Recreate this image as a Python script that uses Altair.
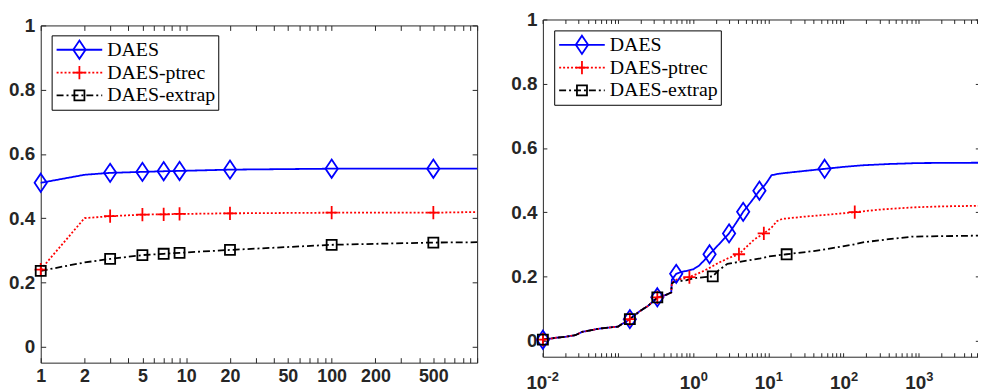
import json
import altair as alt
import pandas as pd

METHODS = ["DAES", "DAES-ptrec", "DAES-extrap"]
KEYS = ["k1", "k2", "k3"]          # internal keys for the marker legend
COLORS = ["#0000ff", "#ff0000", "#000000"]
DASHES = [[1, 0], [2, 2], [7, 3, 2, 3]]
SHAPES = [
    "M0,-0.4L0.27,0L0,0.4L-0.27,0Z",
    "M-0.27,0H0.27M0,-0.29V0.29",
    "M-0.22,-0.22H0.22V0.22H-0.22Z",
]

# ---------------- left panel ----------------
L_X = [1, 2, 3, 5, 7, 9, 20, 100, 500, 1000]
L_DAES = [0.510, 0.535, 0.541, 0.544, 0.546, 0.547, 0.551, 0.554, 0.554, 0.554]
L_PTREC = [0.240, 0.400, 0.406, 0.411, 0.412, 0.413, 0.415, 0.417, 0.417, 0.419]
L_EXTRAP = [0.236, 0.262, 0.273, 0.285, 0.289, 0.292, 0.301, 0.317, 0.324, 0.325]
L_MARK_X = [1, 3, 5, 7, 9, 20, 100, 500]

# ---------------- right panel ----------------
R_COMMON_X = [0.01, 0.015, 0.02, 0.027, 0.033, 0.055, 0.1, 0.123, 0.1435, 0.195, 0.25, 0.333, 0.44, 0.51]
R_COMMON_Y = [0.003, 0.009, 0.012, 0.017, 0.027, 0.037, 0.044, 0.057, 0.067, 0.092, 0.108, 0.134, 0.143, 0.15]

R_DAES_X = [0.52, 0.594, 0.7, 0.85, 1.0, 1.2, 1.4, 1.65, 2.2, 3.0, 3.8, 4.62, 6.0, 7.6, 9.0, 9.8, 11, 14, 20, 56, 100, 180, 400, 1000, 6400]
R_DAES_Y = [0.19, 0.208, 0.214, 0.218, 0.222, 0.234, 0.25, 0.269, 0.30, 0.334, 0.37, 0.401, 0.435, 0.467, 0.485, 0.497, 0.515, 0.520, 0.524, 0.535, 0.541, 0.546, 0.550, 0.553, 0.554]

R_PTREC_X = [0.52, 0.6, 0.75, 0.89, 1.27, 1.6, 2.2, 3.0, 4.06, 5.0, 6.5, 8.7, 11, 13, 15.2, 30, 60, 141, 300, 830, 2000, 6400]
R_PTREC_Y = [0.18, 0.19, 0.193, 0.198, 0.213, 0.225, 0.243, 0.258, 0.269, 0.29, 0.315, 0.334, 0.352, 0.372, 0.379, 0.386, 0.392, 0.4, 0.408, 0.415, 0.418, 0.42]

R_EXTRAP_X = [0.52, 0.56, 0.8, 1.04, 1.82, 2.2, 2.85, 4.0, 7.86, 10, 17.5, 40, 80, 134, 181, 400, 830, 6400]
R_EXTRAP_Y = [0.178, 0.183, 0.188, 0.195, 0.2, 0.22, 0.239, 0.245, 0.256, 0.262, 0.269, 0.279, 0.29, 0.299, 0.306, 0.316, 0.324, 0.327]

R_DAES_MX = [0.01, 0.1435, 0.333, 0.594, 1.65, 3.0, 4.62, 7.6, 56]
R_DAES_MY = [0.003, 0.067, 0.135, 0.208, 0.269, 0.334, 0.401, 0.467, 0.535]
R_PTREC_MX = [0.01, 0.1435, 0.333, 0.89, 4.06, 8.7, 141]
R_PTREC_MY = [0.003, 0.067, 0.135, 0.198, 0.269, 0.334, 0.4]
R_EXTRAP_MX = [0.01, 0.1435, 0.333, 1.82, 17.5]
R_EXTRAP_MY = [0.003, 0.067, 0.135, 0.2, 0.269]

# ---------------- ticks ----------------
Y_TICKS = [0, 0.2, 0.4, 0.6, 0.8, 1]
L_TICKS = [m * 10 ** e for e in range(0, 3) for m in range(1, 10)] + [1000]
L_LABELED = [1, 2, 5, 10, 20, 50, 100, 200, 500]
R_MAX = 6400
R_TICKS = [v for v in (round(m * 10.0 ** e, 6) for e in range(-2, 4) for m in range(1, 10)) if v <= R_MAX]
R_LABELED = [0.01, 1, 10, 100, 1000]
R_EXPONENTS = ["-2", "0", "1", "2", "3"]

# ---------------- dataframes ----------------
left_lines = pd.DataFrame({
    "x": L_X * 3,
    "y": L_DAES + L_PTREC + L_EXTRAP,
    "m": sum([[name] * len(L_X) for name in METHODS], []),
})
left_marks = left_lines[left_lines["x"].isin(L_MARK_X)].copy()
left_marks["k"] = left_marks["m"].map(dict(zip(METHODS, KEYS)))

r_series = [
    (R_COMMON_X + R_DAES_X, R_COMMON_Y + R_DAES_Y),
    (R_COMMON_X + R_PTREC_X, R_COMMON_Y + R_PTREC_Y),
    (R_COMMON_X + R_EXTRAP_X, R_COMMON_Y + R_EXTRAP_Y),
]
right_lines = pd.concat([
    pd.DataFrame({"x": xs, "y": ys, "m": name}) for (xs, ys), name in zip(r_series, METHODS)
])
r_marks = [(R_DAES_MX, R_DAES_MY), (R_PTREC_MX, R_PTREC_MY), (R_EXTRAP_MX, R_EXTRAP_MY)]
right_marks = pd.concat([
    pd.DataFrame({"x": xs, "y": ys, "k": key}) for (xs, ys), key in zip(r_marks, KEYS)
])

# ---------------- layout (plot-area pixels) ----------------
W, H = 945, 346
LEFT = dict(x0=0, x1=440, ytop=6, ybot=346, tick=5, legend=(11, 16))
RIGHT = dict(x0=506.3, x1=946.3, ytop=0, ybot=340, tick=4, legend=(517.7, 11))

AX = "#262626"
FONT = "Liberation Sans"


def ax(**kw):
    d = dict(title=None, grid=False, domain=False, ticks=False, labels=False,
             domainColor=AX, domainWidth=1, tickColor=AX, tickWidth=1,
             labelFont=FONT, labelFontWeight="bold", labelColor=AX,
             labelFlush=False, labelOverlap=False, labelBound=False)
    d.update(kw)
    return alt.Axis(**d)


def legends(pos):
    common = dict(orient="none", legendX=pos[0], legendY=pos[1], title=None,
                  symbolSize=2116, symbolStrokeWidth=1.8, symbolOffset=1,
                  labelOffset=4, labelFont="Liberation Serif", labelFontSize=20,
                  padding=3, clipHeight=23, rowPadding=0, labelLimit=0)
    l1 = alt.Legend(symbolType="stroke", labelColor="black", strokeColor="black",
                    fillColor="white", zindex=1, **common)
    l2 = alt.Legend(labelExpr="''", symbolFillColor="transparent", zindex=2, **common)
    return l1, l2


def panel(g, lines_df, marks_df, xdom, ticks, xlab_axis, exp_axis=None):
    xs = alt.Scale(type="log", domain=xdom, range=[g["x0"], g["x1"]], nice=False)
    ys = alt.Scale(domain=[-0.05, 1], range=[g["ybot"], g["ytop"]], nice=False, zero=False)
    t = g["tick"]
    l1, l2 = legends(g["legend"])

    # labels on the left edge
    y_lab = ax(orient="left", offset=-g["x0"], values=Y_TICKS, labels=True, format="~g",
               labelPadding=6, labelFontSize=19)
    # frame edges with inward ticks
    x_bottom_edge = ax(orient="top", offset=-g["ybot"], values=ticks, domain=True, ticks=True, tickSize=t)
    y_left_edge = ax(orient="right", offset=g["x0"] - W, values=Y_TICKS, domain=True, ticks=True, tickSize=t)
    x_top_edge = ax(orient="bottom", offset=g["ytop"] - H, values=ticks, domain=True, ticks=True, tickSize=t)
    y_right_edge = ax(orient="left", offset=-g["x1"], values=Y_TICKS, domain=True, ticks=True, tickSize=t)

    lines = alt.Chart(lines_df).mark_line(strokeWidth=1.8).encode(
        x=alt.X("x:Q", scale=xs, axis=xlab_axis),
        y=alt.Y("y:Q", scale=ys, axis=y_lab),
        color=alt.Color("m:N", scale=alt.Scale(domain=METHODS, range=COLORS), legend=l1),
        strokeDash=alt.StrokeDash("m:N", scale=alt.Scale(domain=METHODS, range=DASHES), legend=l1),
    )
    pts = alt.Chart(marks_df).mark_point(filled=False, size=2116, strokeWidth=1.8, opacity=1).encode(
        x=alt.X("x:Q", scale=xs, axis=x_bottom_edge),
        y=alt.Y("y:Q", scale=ys, axis=y_left_edge),
        stroke=alt.Stroke("k:N", scale=alt.Scale(domain=KEYS, range=COLORS), legend=l2),
        shape=alt.Shape("k:N", scale=alt.Scale(domain=KEYS, range=SHAPES), legend=l2),
    )
    frame = alt.Chart(marks_df).mark_point(opacity=0).encode(
        x=alt.X("x:Q", scale=xs, axis=x_top_edge),
        y=alt.Y("y:Q", scale=ys, axis=y_right_edge),
    )
    layers = [lines, pts, frame]
    if exp_axis is not None:
        layers.append(alt.Chart(marks_df).mark_point(opacity=0).encode(
            x=alt.X("x:Q", scale=xs, axis=exp_axis),
            y=alt.Y("y:Q", scale=ys, axis=None),
        ))
    return layers


left_xlab = ax(
    orient="bottom", offset=LEFT["ybot"] - H, values=L_TICKS, labels=True, labelPadding=5, labelFontSize=18,
    labelExpr=f"indexof({json.dumps(L_LABELED)}, datum.value) >= 0 ? format(datum.value, 'd') : ''",
)
right_xlab = ax(
    orient="bottom", offset=RIGHT["ybot"] - H, values=R_LABELED, labels=True, labelPadding=17, labelFontSize=19,
    labelAlign="right",
    labelOffset={"condition": {"test": "datum.value == 0.01", "value": 4}, "value": 7},
    labelExpr="'10'",
)
right_exp = ax(
    orient="bottom", offset=RIGHT["ybot"] - H, values=R_LABELED, labels=True, labelPadding=14, labelFontSize=13,
    labelAlign="left",
    labelOffset={"condition": {"test": "datum.value == 0.01", "value": 4}, "value": 7},
    labelExpr=f"{json.dumps(R_EXPONENTS)}[indexof({json.dumps(R_LABELED)}, datum.value)]",
)

layers = (panel(LEFT, left_lines, left_marks, [1, 1000], L_TICKS, left_xlab)
          + panel(RIGHT, right_lines, right_marks, [0.01, R_MAX], R_TICKS, right_xlab, right_exp))

INDEP = dict(x="independent", y="independent", color="independent", strokeDash="independent",
             stroke="independent", shape="independent")
chart = alt.layer(*layers).resolve_scale(**INDEP).resolve_axis(x="independent", y="independent").resolve_legend(
    color="independent", strokeDash="independent", stroke="independent", shape="independent",
).properties(
    width=W, height=H, background="white",
    autosize=alt.AutoSizeParams(type="none"),
    padding={"left": 33, "top": 10, "right": 0, "bottom": 28},
).configure_view(stroke="transparent")

chart.save("out.html", embed_options={"renderer": "svg", "actions": False})
